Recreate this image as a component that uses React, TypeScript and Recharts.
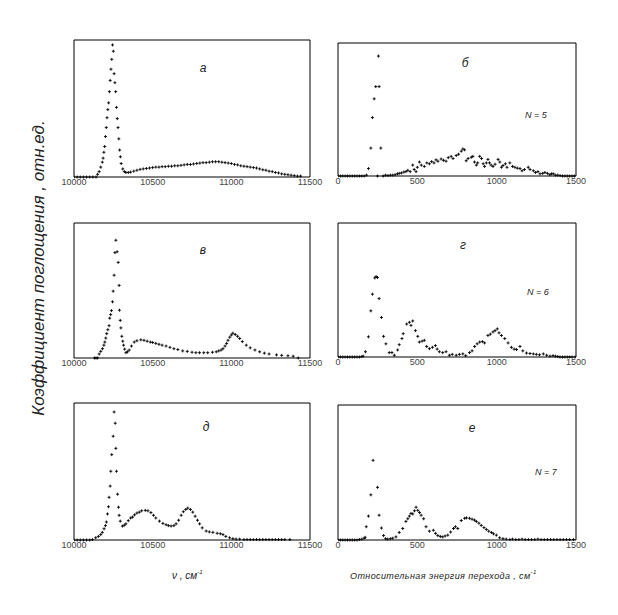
import { ScatterChart, Scatter, XAxis, YAxis } from "recharts";

// wavenumber grid (cm-1) and absorption, left column
const xA = [10000, 10020, 10040, 10060, 10080, 10100, 10120, 10140, 10150, 10160, 10170, 10180, 10185, 10190, 10195, 10200, 10205, 10210, 10215, 10220, 10225, 10230, 10235, 10240, 10245, 10250, 10255, 10260, 10265, 10270, 10275, 10280, 10285, 10290, 10295, 10300, 10310, 10320, 10330, 10345, 10360, 10380, 10400, 10420, 10440, 10460, 10480, 10500, 10520, 10540, 10560, 10580, 10600, 10620, 10640, 10660, 10680, 10700, 10720, 10740, 10760, 10780, 10800, 10820, 10840, 10860, 10880, 10900, 10920, 10940, 10960, 10980, 11000, 11020, 11040, 11060, 11080, 11100, 11120, 11140, 11160, 11180, 11200, 11220, 11240, 11260, 11280, 11300, 11320, 11340, 11360, 11380, 11400, 11420, 11440];
const yA = [0, 0, 0, 0, 0, 0, 0, 0, 0.06, 0.12, 0.22, 0.33, 0.42, 0.55, 0.68, 0.9, 1.1, 1.32, 1.5, 1.65, 1.9, 2.15, 2.4, 2.62, 2.94, 2.8, 2.3, 2.1, 1.9, 1.55, 1.3, 1.1, 0.85, 0.6, 0.45, 0.3, 0.18, 0.12, 0.1, 0.1, 0.11, 0.13, 0.15, 0.17, 0.18, 0.19, 0.2, 0.21, 0.22, 0.22, 0.23, 0.23, 0.24, 0.24, 0.25, 0.25, 0.26, 0.27, 0.28, 0.28, 0.29, 0.3, 0.31, 0.32, 0.32, 0.33, 0.34, 0.34, 0.34, 0.33, 0.32, 0.31, 0.3, 0.28, 0.27, 0.25, 0.24, 0.23, 0.22, 0.21, 0.2, 0.18, 0.16, 0.15, 0.13, 0.12, 0.1, 0.09, 0.07, 0.06, 0.05, 0.04, 0.03, 0.02, 0.02];

const xV = [10130, 10140, 10150, 10160, 10170, 10181, 10190, 10196, 10202, 10208, 10215, 10223, 10227, 10233, 10238, 10245, 10249, 10255, 10260, 10266, 10274, 10281, 10287, 10289, 10294, 10298, 10304, 10310, 10315, 10322, 10330, 10340, 10351, 10365, 10383, 10400, 10425, 10445, 10465, 10485, 10500, 10520, 10540, 10560, 10585, 10610, 10635, 10660, 10691, 10720, 10750, 10775, 10798, 10825, 10850, 10880, 10904, 10920, 10935, 10947, 10960, 10970, 10979, 10990, 11000, 11010, 11025, 11040, 11053, 11070, 11095, 11120, 11150, 11180, 11210, 11240, 11287, 11320, 11360, 11393, 11425];
const yV = [0, 0, 0, 0.09, 0.15, 0.21, 0.29, 0.36, 0.45, 0.55, 0.64, 0.73, 0.9, 0.98, 1.07, 1.27, 1.51, 1.87, 2.38, 2.66, 2.4, 2.16, 1.64, 1.08, 0.85, 0.68, 0.49, 0.38, 0.29, 0.2, 0.12, 0.14, 0.18, 0.27, 0.36, 0.39, 0.41, 0.4, 0.38, 0.36, 0.35, 0.33, 0.31, 0.29, 0.27, 0.24, 0.21, 0.19, 0.16, 0.15, 0.13, 0.12, 0.12, 0.12, 0.12, 0.13, 0.14, 0.16, 0.18, 0.21, 0.27, 0.33, 0.4, 0.47, 0.52, 0.56, 0.53, 0.49, 0.44, 0.37, 0.29, 0.23, 0.18, 0.14, 0.11, 0.09, 0.07, 0.06, 0.05, 0.04, 0];

const xD = [10000, 10020, 10040, 10060, 10080, 10100, 10117, 10138, 10155, 10170, 10180, 10191, 10200, 10206, 10213, 10219, 10223, 10230, 10234, 10240, 10249, 10255, 10262, 10266, 10270, 10277, 10283, 10287, 10294, 10308, 10320, 10330, 10345, 10360, 10372, 10385, 10400, 10415, 10430, 10453, 10470, 10489, 10505, 10520, 10543, 10565, 10585, 10600, 10617, 10635, 10649, 10665, 10681, 10695, 10710, 10723, 10740, 10755, 10770, 10785, 10798, 10815, 10840, 10860, 10883, 10910, 10930, 10947, 10965, 10989, 11010, 11030, 11053, 11080, 11100, 11120, 11140, 11160, 11180, 11200, 11220, 11240, 11260, 11280, 11300, 11320, 11340, 11372];
const yD = [0, 0, 0, 0, 0, 0, 0.01, 0.05, 0.08, 0.12, 0.17, 0.25, 0.32, 0.4, 0.58, 0.74, 0.95, 1.2, 1.53, 1.9, 2.31, 2.85, 2.6, 2.04, 1.53, 1.02, 0.73, 0.55, 0.42, 0.31, 0.33, 0.36, 0.43, 0.49, 0.51, 0.56, 0.6, 0.62, 0.65, 0.66, 0.65, 0.61, 0.55, 0.49, 0.42, 0.37, 0.34, 0.32, 0.31, 0.32, 0.36, 0.44, 0.55, 0.63, 0.68, 0.71, 0.68, 0.62, 0.53, 0.44, 0.36, 0.27, 0.2, 0.18, 0.17, 0.15, 0.14, 0.12, 0.08, 0.05, 0.03, 0.02, 0.02, 0.01, 0.01, 0.01, 0.01, 0.01, 0.01, 0.01, 0.01, 0.01, 0.01, 0.01, 0.01, 0.01, 0.01, 0.01];

// relative transition energy (cm-1), right column
const xB = [0, 15, 30, 45, 60, 75, 90, 105, 120, 135, 150, 165, 180, 192, 207, 217, 228, 238, 249, 255, 259, 270, 285, 300, 315, 330, 345, 360, 375, 386, 400, 415, 428, 440, 455, 471, 480, 492, 500, 513, 525, 544, 560, 576, 590, 605, 618, 630, 650, 665, 681, 695, 713, 725, 745, 760, 777, 787, 798, 808, 820, 840, 850, 860, 872, 880, 893, 905, 915, 924, 935, 945, 955, 965, 977, 990, 1009, 1020, 1030, 1040, 1055, 1065, 1083, 1100, 1115, 1130, 1147, 1160, 1175, 1199, 1210, 1231, 1245, 1260, 1273, 1290, 1304, 1320, 1335, 1345, 1357, 1370, 1385, 1400, 1415, 1430, 1445, 1460, 1475, 1490];
const yB = [0, 0, 0, 0, 0, 0, 0, 0, 0, 0, 0, 0, 0.02, 0.17, 0.64, 1.34, 1.77, 2.05, 0, 2.75, 2.05, 0.64, 0, 0.02, 0.01, 0.02, 0.02, 0.03, 0.05, 0.06, 0.07, 0.09, 0.1, 0.13, 0.1, 0.25, 0.15, 0.1, 0.2, 0.32, 0.25, 0.22, 0.3, 0.28, 0.33, 0.3, 0.37, 0.34, 0.39, 0.36, 0.34, 0.42, 0.45, 0.4, 0.47, 0.5, 0.57, 0.62, 0.6, 0.35, 0.4, 0.43, 0.45, 0.32, 0.25, 0.3, 0.45, 0.4, 0.28, 0.22, 0.3, 0.38, 0.3, 0.25, 0.22, 0.27, 0.38, 0.32, 0.2, 0.24, 0.28, 0.2, 0.3, 0.22, 0.2, 0.18, 0.17, 0.12, 0.15, 0.2, 0.15, 0.12, 0.08, 0.1, 0.05, 0.06, 0.08, 0.06, 0.03, 0.05, 0.05, 0.02, 0.02, 0.01, 0, 0, 0, 0, 0, 0];

const xG = [0, 15, 30, 45, 60, 75, 90, 105, 120, 135, 150, 158, 173, 192, 207, 217, 232, 240, 249, 259, 274, 287, 302, 323, 340, 355, 376, 386, 403, 411, 433, 450, 460, 471, 488, 503, 513, 530, 544, 559, 576, 595, 614, 625, 639, 660, 681, 702, 720, 745, 765, 787, 805, 829, 845, 861, 877, 893, 910, 924, 945, 960, 977, 990, 1004, 1015, 1030, 1051, 1072, 1093, 1110, 1125, 1147, 1165, 1188, 1210, 1231, 1250, 1270, 1294, 1315, 1336, 1355, 1370, 1385, 1399, 1415, 1430, 1445, 1460, 1475, 1494];
const yG = [0, 0, 0, 0, 0, 0, 0, 0, 0, 0, 0.01, 0.02, 0.12, 0.46, 1.05, 1.43, 1.8, 1.83, 1.81, 1.33, 0.9, 0.47, 0.3, 0.1, 0.1, 0.04, 0.16, 0.28, 0.42, 0.53, 0.75, 0.79, 0.72, 0.82, 0.6, 0.47, 0.34, 0.36, 0.38, 0.24, 0.19, 0.22, 0.26, 0.18, 0.12, 0.1, 0.12, 0.04, 0.06, 0.04, 0.06, 0.07, 0.03, 0.1, 0.14, 0.24, 0.3, 0.34, 0.35, 0.32, 0.49, 0.52, 0.57, 0.6, 0.64, 0.55, 0.49, 0.42, 0.32, 0.22, 0.18, 0.17, 0.24, 0.14, 0.09, 0.08, 0.07, 0.06, 0.05, 0.07, 0.04, 0.02, 0.03, 0.02, 0.01, 0, 0, 0, 0, 0, 0, 0];

const xE = [0, 15, 30, 45, 60, 75, 90, 105, 120, 135, 150, 165, 171, 178, 192, 207, 221, 249, 259, 274, 287, 300, 313, 330, 345, 365, 386, 408, 428, 440, 450, 460, 471, 482, 492, 503, 514, 524, 540, 555, 576, 601, 615, 629, 645, 660, 675, 692, 710, 728, 740, 755, 777, 798, 810, 829, 845, 860, 872, 888, 903, 920, 935, 950, 967, 980, 998, 1019, 1040, 1060, 1083, 1100, 1120, 1140, 1160, 1180, 1200, 1220, 1240, 1260, 1280, 1300, 1320, 1340, 1360, 1380, 1400, 1420, 1440, 1460, 1484];
const yE = [0, 0, 0, 0, 0, 0, 0, 0, 0, 0.01, 0.02, 0.04, 0.06, 0.3, 0.54, 1.02, 1.8, 1.19, 0.56, 0.27, 0.1, 0.03, 0.02, 0.03, 0.04, 0.07, 0.17, 0.26, 0.42, 0.48, 0.54, 0.6, 0.59, 0.66, 0.74, 0.67, 0.62, 0.56, 0.48, 0.3, 0.2, 0.22, 0.15, 0.1, 0.08, 0.07, 0.09, 0.11, 0.18, 0.26, 0.3, 0.26, 0.44, 0.49, 0.5, 0.49, 0.47, 0.45, 0.42, 0.38, 0.33, 0.28, 0.24, 0.2, 0.17, 0.14, 0.11, 0.05, 0.03, 0.02, 0.01, 0.02, 0.01, 0.01, 0.02, 0.01, 0.01, 0.01, 0.01, 0.02, 0.01, 0.01, 0.01, 0.01, 0.01, 0.01, 0.01, 0.01, 0.01, 0.01, 0.01];

const LEFT_TICKS = [10000, 10500, 11000, 11500];
const RIGHT_TICKS = [0, 500, 1000, 1500];
const Y_TICKS = [0, 1, 2, 3];

const toRows = (xs: number[], ys: number[]) => xs.map((x, i) => ({ x, y: ys[i] }));

const Plus = (props: any) => {
  const { cx, cy } = props;
  if (cx == null || cy == null) return null;
  return (
    <path
      d={`M${cx - 1.5},${cy}h3M${cx},${cy - 1.5}v3`}
      stroke="#000"
      strokeWidth={0.9}
      fill="none"
    />
  );
};

// chart margin; axes of 1px fill the rest so the plot box lands on left/top
const M = { top: 4, right: 24, bottom: 5, left: 20 };

interface PanelProps {
  left: number;
  top: number;
  w: number;
  h: number;
  xs: number[];
  ys: number[];
  domain: [number, number];
  ticks: number[];
  yTicks?: boolean;
}

const Panel = ({ left, top, w, h, xs, ys, domain, ticks, yTicks }: PanelProps) => (
  <div style={{ position: "absolute", left: left - M.left - 1, top: top - M.top - 1 }}>
    <ScatterChart width={w + M.left + M.right + 2} height={h + M.top + M.bottom + 21} margin={M}>
      <XAxis
        dataKey="x"
        type="number"
        domain={domain}
        ticks={ticks}
        interval={0}
        allowDataOverflow
        height={20}
        tickSize={0}
        tickMargin={2}
        tickLine={false}
        axisLine={{ stroke: "#000" }}
        tick={{ fontSize: 9, fill: "#444", fontFamily: "Liberation Sans, Arial" }}
      />
      <XAxis xAxisId="top" dataKey="x" type="number" domain={domain} orientation="top" height={1} tick={false} tickLine={false} axisLine={{ stroke: "#000" }} />
      <YAxis
        dataKey="y"
        type="number"
        domain={[0, 3.05]}
        ticks={Y_TICKS}
        interval={0}
        width={1}
        mirror
        tick={false}
        tickSize={3}
        tickLine={yTicks ? { stroke: "#000" } : false}
        axisLine={{ stroke: "#000" }}
      />
      <YAxis yAxisId="right" dataKey="y" type="number" domain={[0, 3.05]} orientation="right" width={1} tick={false} tickLine={false} axisLine={{ stroke: "#000" }} />
      <Scatter data={toRows(xs, ys)} shape={<Plus />} isAnimationActive={false} />
    </ScatterChart>
  </div>
);

const lbl = { fontFamily: "Liberation Sans, Arial", fontStyle: "italic", fill: "#222" } as const;

export default function App() {
  return (
    <div style={{ position: "absolute", left: 0, top: 0, width: 618, height: 615, background: "#fff" }}>
      <Panel left={75} top={40} w={235} h={137} xs={xA} ys={yA} domain={[10000, 11500]} ticks={LEFT_TICKS} yTicks />
      <Panel left={339} top={43} w={237} h={133} xs={xB} ys={yB} domain={[0, 1500]} ticks={RIGHT_TICKS} />
      <Panel left={75} top={223} w={235} h={135} xs={xV} ys={yV} domain={[10000, 11500]} ticks={LEFT_TICKS} yTicks />
      <Panel left={339} top={223} w={237} h={134} xs={xG} ys={yG} domain={[0, 1500]} ticks={RIGHT_TICKS} />
      <Panel left={75} top={403} w={235} h={137} xs={xD} ys={yD} domain={[10000, 11500]} ticks={LEFT_TICKS} yTicks />
      <Panel left={339} top={405} w={237} h={135} xs={xE} ys={yE} domain={[0, 1500]} ticks={RIGHT_TICKS} />
      <svg width={618} height={615} style={{ position: "absolute", left: 0, top: 0, pointerEvents: "none" }}>
        <text x={203} y={72} fontSize={12} textAnchor="middle" {...lbl}>а</text>
        <text x={465} y={67} fontSize={12} textAnchor="middle" {...lbl}>б</text>
        <text x={203} y={254} fontSize={12} textAnchor="middle" {...lbl}>в</text>
        <text x={463} y={249} fontSize={12} textAnchor="middle" {...lbl}>г</text>
        <text x={206} y={431} fontSize={12} textAnchor="middle" {...lbl}>д</text>
        <text x={472} y={432} fontSize={12} textAnchor="middle" {...lbl}>е</text>
        <text x={525} y={118} fontSize={9} {...lbl}>N = 5</text>
        <text x={527} y={295} fontSize={9} {...lbl}>N = 6</text>
        <text x={535} y={475} fontSize={9} {...lbl}>N = 7</text>
        <text
          x={44}
          y={268}
          fontSize={17}
          textAnchor="middle"
          transform="rotate(-90 44 268)"
          {...lbl}
        >
          Коэффициент поглощения , отн.ед.
        </text>
        <text x={172} y={579} fontSize={10} {...lbl}>
          ν , см<tspan dy={-5} fontSize={6}>-1</tspan>
        </text>
        <text x={350} y={579} fontSize={9} letterSpacing={0.4} {...lbl}>
          Относительная энергия перехода , см<tspan dy={-5} fontSize={6}>-1</tspan>
        </text>
      </svg>
    </div>
  );
}
